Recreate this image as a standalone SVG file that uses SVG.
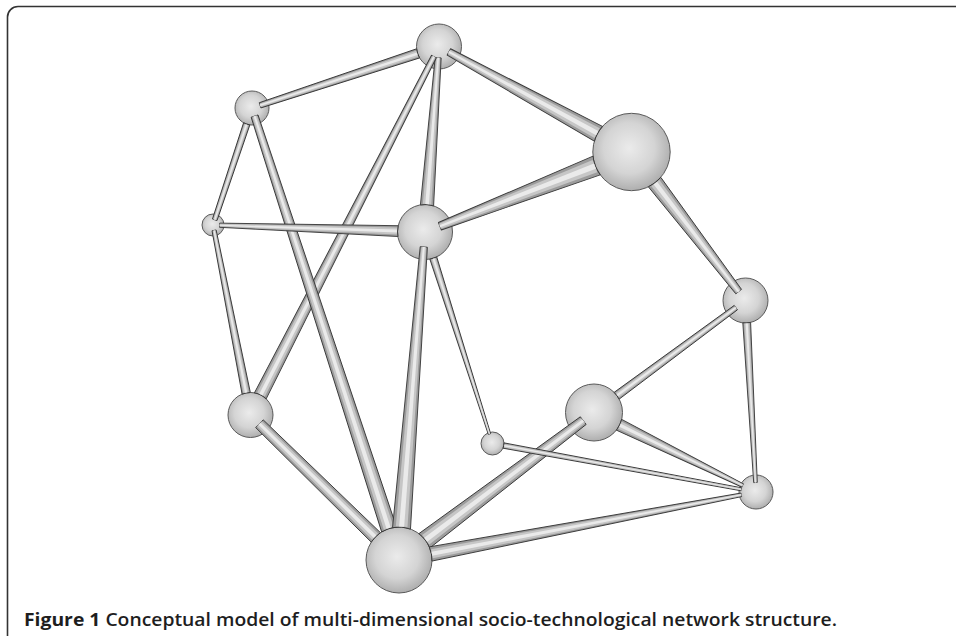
<svg xmlns="http://www.w3.org/2000/svg" width="956" height="636" viewBox="0 0 956 636">
<defs>
<radialGradient id="sph" cx="0.47" cy="0.45" r="0.6">
<stop offset="0" stop-color="#ebebeb"/>
<stop offset="0.55" stop-color="#d4d4d4"/>
<stop offset="1" stop-color="#a6a6a6"/>
</radialGradient>
<style>
.nd{fill:url(#sph);stroke:#5a5a5a;stroke-width:1}
.rod{fill:#9c9c9c;stroke:#383838;stroke-width:0.9;stroke-linejoin:round}
.rm{fill:#c6c6c6}
.rh{fill:#eaeaea}
.frame{fill:none;stroke:#333;stroke-width:1.6}
.cap{font-family:"Open Sans","Liberation Sans",sans-serif;font-size:17.5px;fill:#1e1e1e}
</style>
</defs>
<rect width="956" height="636" fill="#fff"/>
<path class="frame" d="M7.5,636 L7.5,17 A10.5,10.5 0 0 1 18,6.5 L956,6.5"/>
<g id="nodes">
<g id="node-A"><circle class="nd" cx="439" cy="46.5" r="22.5"/></g>
<g id="node-B"><circle class="nd" cx="252" cy="108" r="17"/></g>
<g id="node-C"><circle class="nd" cx="631.5" cy="152" r="38.7"/></g>
<g id="node-D"><circle class="nd" cx="213" cy="225" r="11"/></g>
<g id="node-E"><circle class="nd" cx="425" cy="232" r="27.5"/></g>
<g id="node-F"><circle class="nd" cx="745.5" cy="300.5" r="22.5"/></g>
<g id="node-G"><circle class="nd" cx="594" cy="412.5" r="28.5"/></g>
<g id="node-H"><circle class="nd" cx="250.5" cy="415" r="22.5"/></g>
<g id="node-I"><circle class="nd" cx="492.5" cy="443.5" r="11.5"/></g>
<g id="node-J"><circle class="nd" cx="756" cy="492" r="17"/></g>
<g id="node-K"><circle class="nd" cx="399" cy="560" r="33"/></g>
</g>
<g id="connectors">
<g id="A-B" transform="translate(439,46.5) rotate(161.8)"><path class="rod" d="M21.98,-4.8 L188.35,-2.7 L188.35,2.7 L21.98,4.8 A22.5,22.5 0 0 0 21.98,-4.8 Z"/><path class="rm" d="M23,-3.12 L188.35,-1.76 L188.35,1.76 L23,3.12 Z"/><path class="rh" d="M23,-1.34 L188.35,-0.76 L188.35,0.76 L23,1.34 Z"/></g>
<g id="C-A" transform="translate(631.5,152) rotate(-151.27)"><path class="rod" d="M37.78,-8.4 L208.25,-3.6 L208.25,3.6 L37.78,8.4 A38.7,38.7 0 0 0 37.78,-8.4 Z"/><path class="rm" d="M39.2,-5.46 L208.25,-2.34 L208.25,2.34 L39.2,5.46 Z"/><path class="rh" d="M39.2,-2.35 L208.25,-1 L208.25,1 L39.2,2.35 Z"/></g>
<g id="E-A" transform="translate(425,232) rotate(-85.68)"><path class="rod" d="M26.7,-6.6 L174.78,-3 L174.78,3 L26.7,6.6 A27.5,27.5 0 0 0 26.7,-6.6 Z"/><path class="rm" d="M28,-4.29 L174.78,-1.95 L174.78,1.95 L28,4.29 Z"/><path class="rh" d="M28,-1.85 L174.78,-0.84 L174.78,0.84 L28,1.85 Z"/></g>
<g id="H-A" transform="translate(250.5,415) rotate(-62.9)"><path class="rod" d="M21.51,-6.6 L402.65,-2.7 L402.65,2.7 L21.51,6.6 A22.5,22.5 0 0 0 21.51,-6.6 Z"/><path class="rm" d="M23,-4.29 L402.65,-1.76 L402.65,1.76 L23,4.29 Z"/><path class="rh" d="M23,-1.85 L402.65,-0.76 L402.65,0.76 L23,1.85 Z"/></g>
<g id="B-D" transform="translate(252,108) rotate(108.43)"><path class="rod" d="M16.68,-3.3 L117.83,-2.4 L117.83,2.4 L16.68,3.3 A17,17 0 0 0 16.68,-3.3 Z"/><path class="rm" d="M17.5,-2.15 L117.83,-1.56 L117.83,1.56 L17.5,2.15 Z"/><path class="rh" d="M17.5,-0.92 L117.83,-0.67 L117.83,0.67 L17.5,0.92 Z"/></g>
<g id="K-B" transform="translate(399,560) rotate(-108.02)"><path class="rod" d="M32.07,-7.8 L466.8,-3.6 L466.8,3.6 L32.07,7.8 A33,33 0 0 0 32.07,-7.8 Z"/><path class="rm" d="M33.5,-5.07 L466.8,-2.34 L466.8,2.34 L33.5,5.07 Z"/><path class="rh" d="M33.5,-2.18 L466.8,-1 L466.8,1 L33.5,2.18 Z"/></g>
<g id="C-E" transform="translate(631.5,152) rotate(158.82)"><path class="rod" d="M37.39,-10 L205.5,-4 L205.5,4 L37.39,10 A38.7,38.7 0 0 0 37.39,-10 Z"/><path class="rm" d="M39.2,-6.5 L205.5,-2.6 L205.5,2.6 L39.2,6.5 Z"/><path class="rh" d="M39.2,-2.8 L205.5,-1.12 L205.5,1.12 L39.2,2.8 Z"/></g>
<g id="C-F" transform="translate(631.5,152) rotate(52.49)"><path class="rod" d="M37.91,-7.8 L175.96,-3.6 L175.96,3.6 L37.91,7.8 A38.7,38.7 0 0 0 37.91,-7.8 Z"/><path class="rm" d="M39.2,-5.07 L175.96,-2.34 L175.96,2.34 L39.2,5.07 Z"/><path class="rh" d="M39.2,-2.18 L175.96,-1 L175.96,1 L39.2,2.18 Z"/></g>
<g id="E-D" transform="translate(425,232) rotate(-178.11)"><path class="rod" d="M26.96,-5.4 L205.5,-2.1 L205.5,2.1 L26.96,5.4 A27.5,27.5 0 0 0 26.96,-5.4 Z"/><path class="rm" d="M28,-3.51 L205.5,-1.37 L205.5,1.37 L28,3.51 Z"/><path class="rh" d="M28,-1.51 L205.5,-0.59 L205.5,0.59 L28,1.51 Z"/></g>
<g id="H-D" transform="translate(250.5,415) rotate(-101.16)"><path class="rod" d="M22.1,-4.2 L188.17,-2.1 L188.17,2.1 L22.1,4.2 A22.5,22.5 0 0 0 22.1,-4.2 Z"/><path class="rm" d="M23,-2.73 L188.17,-1.37 L188.17,1.37 L23,2.73 Z"/><path class="rh" d="M23,-1.18 L188.17,-0.59 L188.17,0.59 L23,1.18 Z"/></g>
<g id="K-E" transform="translate(399,560) rotate(-85.47)"><path class="rod" d="M31.75,-9 L314,-3.6 L314,3.6 L31.75,9 A33,33 0 0 0 31.75,-9 Z"/><path class="rm" d="M33.5,-5.85 L314,-2.34 L314,2.34 L33.5,5.85 Z"/><path class="rh" d="M33.5,-2.52 L314,-1 L314,1 L33.5,2.52 Z"/></g>
<g id="E-I" transform="translate(425,232) rotate(72.3)"><path class="rod" d="M27.26,-3.6 L212,-1.2 L212,1.2 L27.26,3.6 A27.5,27.5 0 0 0 27.26,-3.6 Z"/><path class="rm" d="M28,-2.34 L212,-0.78 L212,0.78 L28,2.34 Z"/><path class="rh" d="M28,-1 L212,-0.34 L212,0.34 L28,1 Z"/></g>
<g id="G-F" transform="translate(594,412.5) rotate(-36.48)"><path class="rod" d="M28.19,-4.2 L176.4,-2.7 L176.4,2.7 L28.19,4.2 A28.5,28.5 0 0 0 28.19,-4.2 Z"/><path class="rm" d="M29,-2.73 L176.4,-1.76 L176.4,1.76 L29,2.73 Z"/><path class="rh" d="M29,-1.18 L176.4,-0.76 L176.4,0.76 L29,1.18 Z"/></g>
<g id="F-J" transform="translate(745.5,300.5) rotate(86.86)"><path class="rod" d="M22.16,-3.9 L182.29,-1.8 L182.29,1.8 L22.16,3.9 A22.5,22.5 0 0 0 22.16,-3.9 Z"/><path class="rm" d="M23,-2.54 L182.29,-1.17 L182.29,1.17 L23,2.54 Z"/><path class="rh" d="M23,-1.09 L182.29,-0.5 L182.29,0.5 L23,1.09 Z"/></g>
<g id="G-J" transform="translate(594,412.5) rotate(26.14)"><path class="rod" d="M27.86,-6 L165.5,-1.8 L165.5,1.8 L27.86,6 A28.5,28.5 0 0 0 27.86,-6 Z"/><path class="rm" d="M29,-3.9 L165.5,-1.17 L165.5,1.17 L29,3.9 Z"/><path class="rh" d="M29,-1.68 L165.5,-0.5 L165.5,0.5 L29,1.68 Z"/></g>
<g id="K-G" transform="translate(399,560) rotate(-37.11)"><path class="rod" d="M31.75,-9 L231,-4.8 L231,4.8 L31.75,9 A33,33 0 0 0 31.75,-9 Z"/><path class="rm" d="M33.5,-5.85 L231,-3.12 L231,3.12 L33.5,5.85 Z"/><path class="rh" d="M33.5,-2.52 L231,-1.34 L231,1.34 L33.5,2.52 Z"/></g>
<g id="K-H" transform="translate(399,560) rotate(-135.68)"><path class="rod" d="M32.33,-6.6 L195.05,-5.4 L195.05,5.4 L32.33,6.6 A33,33 0 0 0 32.33,-6.6 Z"/><path class="rm" d="M33.5,-4.29 L195.05,-3.51 L195.05,3.51 L33.5,4.29 Z"/><path class="rh" d="M33.5,-1.85 L195.05,-1.51 L195.05,1.51 L33.5,1.85 Z"/></g>
<g id="I-J" transform="translate(492.5,443.5) rotate(10.43)"><path class="rod" d="M11.18,-2.7 L252.93,-1.5 L252.93,1.5 L11.18,2.7 A11.5,11.5 0 0 0 11.18,-2.7 Z"/><path class="rm" d="M12,-1.76 L252.93,-0.98 L252.93,0.98 L12,1.76 Z"/><path class="rh" d="M12,-0.76 L252.93,-0.42 L252.93,0.42 L12,0.76 Z"/></g>
<g id="K-J" transform="translate(399,560) rotate(-10.78)"><path class="rod" d="M32.21,-7.2 L348.42,-1.8 L348.42,1.8 L32.21,7.2 A33,33 0 0 0 32.21,-7.2 Z"/><path class="rm" d="M33.5,-4.68 L348.42,-1.17 L348.42,1.17 L33.5,4.68 Z"/><path class="rh" d="M33.5,-2 L348.42,-0.5 L348.42,0.5 L33.5,2 Z"/></g>
</g>
<text class="cap" x="24" y="626" textLength="813" lengthAdjust="spacingAndGlyphs"><tspan font-weight="bold">Figure 1</tspan><tspan font-weight="600"> Conceptual model of multi-dimensional socio-technological network structure.</tspan></text>
</svg>
